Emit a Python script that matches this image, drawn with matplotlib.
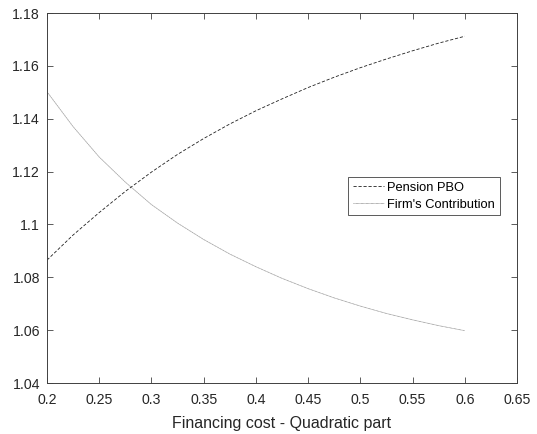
import matplotlib
matplotlib.use("Agg")
import matplotlib.pyplot as plt

# Financing cost (quadratic part) grid and the two responses
cost = [0.200, 0.225, 0.250, 0.275, 0.300, 0.325, 0.350, 0.375, 0.400,
        0.425, 0.450, 0.475, 0.500, 0.525, 0.550, 0.575, 0.600]
pension_pbo = [1.0865, 1.0960, 1.1045, 1.1125, 1.1198, 1.1265, 1.1325, 1.1380, 1.1430,
               1.1475, 1.1518, 1.1557, 1.1593, 1.1626, 1.1657, 1.1686, 1.1712]
firm_contribution = [1.1502, 1.1370, 1.1255, 1.1160, 1.1075, 1.1005, 1.0943, 1.0888, 1.0840,
                     1.0796, 1.0757, 1.0722, 1.0691, 1.0663, 1.0639, 1.0617, 1.0598]

x_ticks = [0.2, 0.25, 0.3, 0.35, 0.4, 0.45, 0.5, 0.55, 0.6, 0.65]
x_tick_labels = ["0.2", "0.25", "0.3", "0.35", "0.4", "0.45", "0.5", "0.55", "0.6", "0.65"]
y_ticks = [1.04, 1.06, 1.08, 1.1, 1.12, 1.14, 1.16, 1.18]
y_tick_labels = ["1.04", "1.06", "1.08", "1.1", "1.12", "1.14", "1.16", "1.18"]

plt.rcParams["font.family"] = ["Liberation Sans", "DejaVu Sans"]

fig = plt.figure(figsize=(5.37, 4.34), dpi=100)
ax = fig.add_axes([47 / 537, 1 - 383 / 434, 470 / 537, 370 / 434])

axis_color = "#404040"
text_color = "#262626"

ax.plot(cost, pension_pbo, color="#202020", linewidth=0.6, dashes=(3.8, 2.2),
        label="Pension PBO")
ax.plot(cost, firm_contribution, color="#505050", linewidth=0.5, linestyle=(0, (0.6, 0.6)),
        label="Firm's Contribution")

ax.set_xlim(0.2, 0.65)
ax.set_ylim(1.04, 1.18)
ax.set_xticks(x_ticks)
ax.set_xticklabels(x_tick_labels)
ax.set_yticks(y_ticks)
ax.set_yticklabels(y_tick_labels)

ax.tick_params(direction="in", top=True, right=True, length=4, width=0.6,
               colors=axis_color, labelsize=10.2, labelcolor=text_color)
ax.tick_params(axis="x", pad=7.5)
ax.tick_params(axis="y", pad=5)
for spine in ax.spines.values():
    spine.set_color(axis_color)
    spine.set_linewidth(0.7)

ax.set_xlabel("Financing cost - Quadratic part", fontsize=11.5, color=text_color, labelpad=6)

leg = ax.legend(loc="upper left", bbox_to_anchor=(348 / 537, 1 - 177 / 434),
                bbox_transform=fig.transFigure, borderaxespad=0, fancybox=False,
                edgecolor="#404040", framealpha=1, fontsize=9.3, handlelength=2.4,
                handletextpad=0.3, borderpad=0.35, labelspacing=0.4)
leg.get_frame().set_linewidth(0.6)

fig.savefig("out.png", dpi=100)
